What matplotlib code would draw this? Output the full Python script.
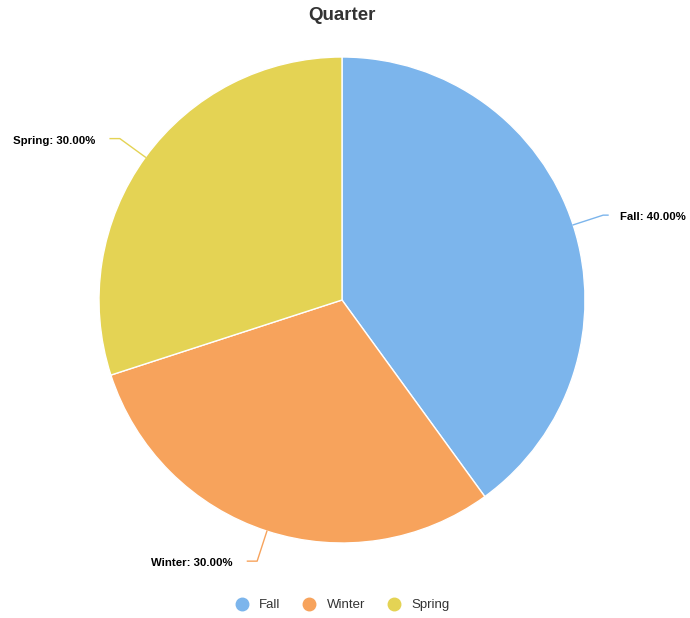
import numpy as np
import matplotlib
matplotlib.use("Agg")
import matplotlib.pyplot as plt
from matplotlib.lines import Line2D

categories = ["Fall", "Winter", "Spring"]
values = [40.0, 30.0, 30.0]
colors = ["#7cb5ec", "#f7a35c", "#e4d354"]
title = "Quarter"

plt.rcParams['font.family'] = ['Liberation Sans', 'DejaVu Sans']

W, H = 690, 618
fig = plt.figure(figsize=(W / 100, H / 100), dpi=100)
cx, cy, R = 342, 300, 243
ax = fig.add_axes([(cx - R) / W, (H - cy - R) / H, 2 * R / W, 2 * R / H])

wedges, _ = ax.pie(values, colors=colors, startangle=90, counterclock=False,
                   radius=1, wedgeprops=dict(edgecolor='white', linewidth=1))
ax.set_xlim(-1, 1)
ax.set_ylim(-1, 1)
ax.set_aspect('equal')
ax.axis('off')

total = sum(values)
start = 90.0
for cat, val, col, w in zip(categories, values, colors, wedges):
    span = 360.0 * val / total
    mid = np.deg2rad(start - span / 2)
    start -= span
    x0, y0 = np.cos(mid), np.sin(mid)
    x1, y1 = 1.13 * x0, 1.13 * y0
    side = 1 if x0 >= 0 else -1
    x2 = x1 + side * (0.02 if side > 0 else 0.04)
    gap = 0.05 if side > 0 else 0.06
    ax.plot([x0, x1, x2], [y0, y1, y1], color=col, lw=1, clip_on=False)
    ax.text(x2 + side * gap, y1 - 0.008, f"{cat}: {val:.2f}%", ha='left' if side > 0 else 'right',
            va='center', fontsize=8.2, fontweight='bold', color='black', clip_on=False)

fig.text(cx / W, 1 - 16 / H, title, ha='center', va='center', fontsize=13.5,
         fontweight='bold', color='#333333')

handles = [Line2D([], [], marker='o', linestyle='none', markersize=9,
                  markerfacecolor=c, markeredgecolor=c) for c in colors]
fig.legend(handles, categories, loc='center', bbox_to_anchor=((cx - 3) / W, 1 - 605 / H),
           ncol=3, frameon=False, fontsize=9.5, handletextpad=0.3, columnspacing=1.2,
           labelcolor='#333333')

fig.savefig("out.png", dpi=100)
